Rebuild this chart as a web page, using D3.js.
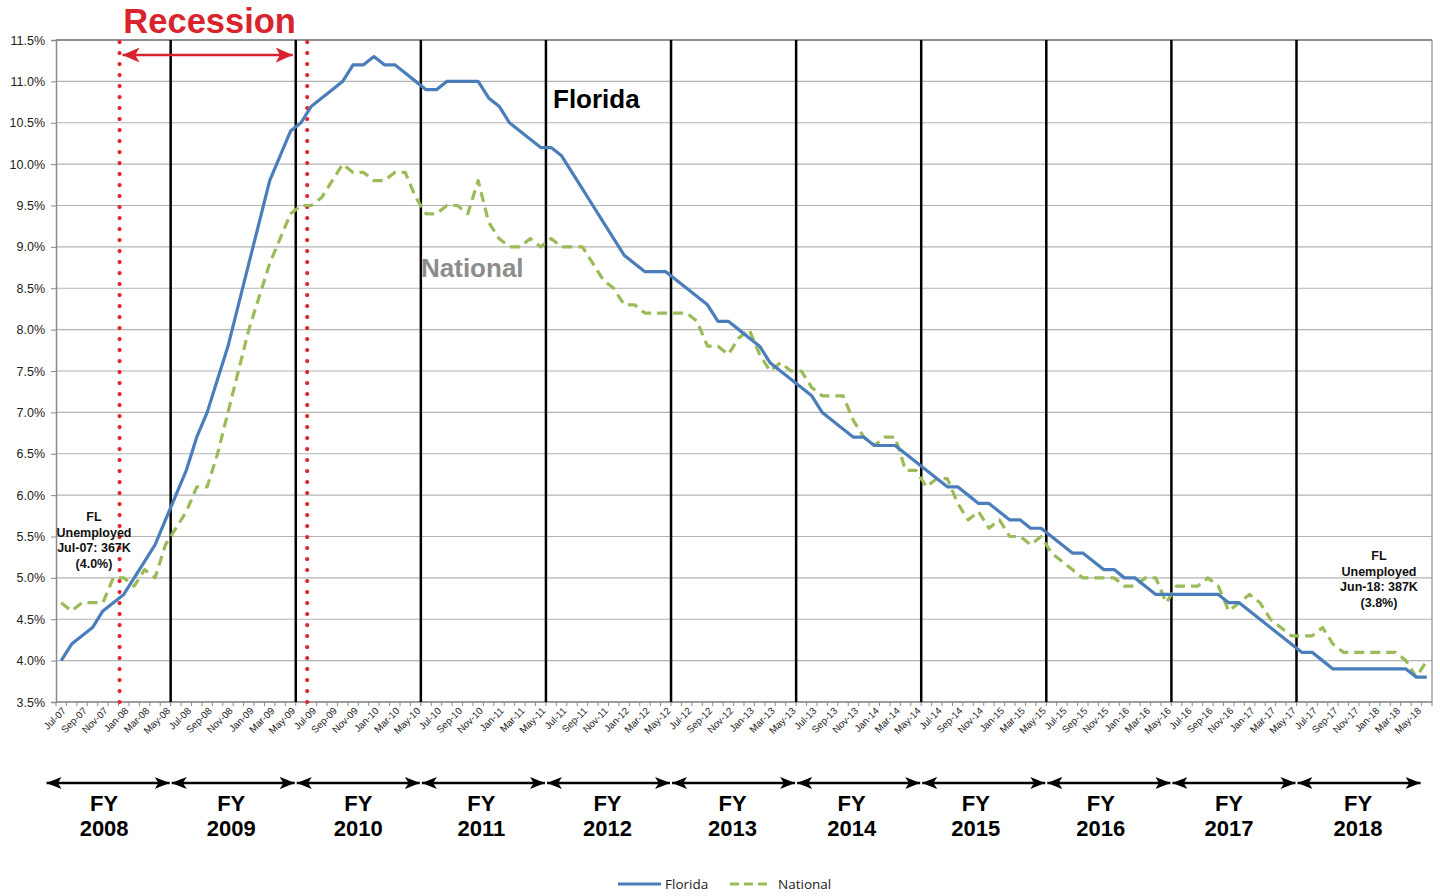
<!DOCTYPE html>
<html>
<head>
<meta charset="utf-8">
<script src="https://cdn.jsdelivr.net/npm/d3@7"></script>
<style>
  html, body { margin: 0; padding: 0; background: #fff; }
  svg { display: block; font-family: "Liberation Sans", Arial, sans-serif; }
</style>
</head>
<body>
<svg id="chart" width="1440" height="896"></svg>
<script>
// Monthly labels, Jul-07 through Jun-18
const monthNames = ["Jan","Feb","Mar","Apr","May","Jun","Jul","Aug","Sep","Oct","Nov","Dec"];
const months = [];
for (let i = 0; i < 132; i++) {
  const m = (6 + i) % 12;
  const yr = 7 + Math.floor((6 + i) / 12);
  months.push(monthNames[m] + "-" + String(yr).padStart(2, "0"));
}

// Unemployment rate (%), Florida
const florida = [
  4.0, 4.2, 4.3, 4.4, 4.6, 4.7, 4.8, 5.0, 5.2, 5.4, 5.7, 6.0,
  6.3, 6.7, 7.0, 7.4, 7.8, 8.3, 8.8, 9.3, 9.8, 10.1, 10.4, 10.5,
  10.7, 10.8, 10.9, 11.0, 11.2, 11.2, 11.3, 11.2, 11.2, 11.1, 11.0, 10.9,
  10.9, 11.0, 11.0, 11.0, 11.0, 10.8, 10.7, 10.5, 10.4, 10.3, 10.2, 10.2,
  10.1, 9.9, 9.7, 9.5, 9.3, 9.1, 8.9, 8.8, 8.7, 8.7, 8.7, 8.6,
  8.5, 8.4, 8.3, 8.1, 8.1, 8.0, 7.9, 7.8, 7.6, 7.5, 7.4, 7.3,
  7.2, 7.0, 6.9, 6.8, 6.7, 6.7, 6.6, 6.6, 6.6, 6.5, 6.4, 6.3,
  6.2, 6.1, 6.1, 6.0, 5.9, 5.9, 5.8, 5.7, 5.7, 5.6, 5.6, 5.5,
  5.4, 5.3, 5.3, 5.2, 5.1, 5.1, 5.0, 5.0, 4.9, 4.8, 4.8, 4.8,
  4.8, 4.8, 4.8, 4.8, 4.7, 4.7, 4.6, 4.5, 4.4, 4.3, 4.2, 4.1,
  4.1, 4.0, 3.9, 3.9, 3.9, 3.9, 3.9, 3.9, 3.9, 3.9, 3.8, 3.8
];

// Unemployment rate (%), National
const national = [
  4.7, 4.6, 4.7, 4.7, 4.7, 5.0, 5.0, 4.9, 5.1, 5.0, 5.4, 5.6,
  5.8, 6.1, 6.1, 6.5, 7.0, 7.5, 8.0, 8.4, 8.8, 9.1, 9.4, 9.5,
  9.5, 9.6, 9.8, 10.0, 9.9, 9.9, 9.8, 9.8, 9.9, 9.9, 9.6, 9.4,
  9.4, 9.5, 9.5, 9.4, 9.8, 9.3, 9.1, 9.0, 9.0, 9.1, 9.0, 9.1,
  9.0, 9.0, 9.0, 8.8, 8.6, 8.5, 8.3, 8.3, 8.2, 8.2, 8.2, 8.2,
  8.2, 8.1, 7.8, 7.8, 7.7, 7.9, 8.0, 7.7, 7.5, 7.6, 7.5, 7.5,
  7.3, 7.2, 7.2, 7.2, 6.9, 6.7, 6.6, 6.7, 6.7, 6.3, 6.3, 6.1,
  6.2, 6.2, 5.9, 5.7, 5.8, 5.6, 5.7, 5.5, 5.5, 5.4, 5.5, 5.3,
  5.2, 5.1, 5.0, 5.0, 5.0, 5.0, 4.9, 4.9, 5.0, 5.0, 4.7, 4.9,
  4.9, 4.9, 5.0, 4.9, 4.6, 4.7, 4.8, 4.7, 4.5, 4.4, 4.3, 4.3,
  4.3, 4.4, 4.2, 4.1, 4.1, 4.1, 4.1, 4.1, 4.1, 4.0, 3.8, 4.0
];

const yTicks = [3.5, 4.0, 4.5, 5.0, 5.5, 6.0, 6.5, 7.0, 7.5, 8.0, 8.5, 9.0, 9.5, 10.0, 10.5, 11.0, 11.5];
const fiscalYears = ["2008","2009","2010","2011","2012","2013","2014","2015","2016","2017","2018"];
const recessionStart = "Jan-08";
const recessionEnd = "Jul-09";
const startNote = ["FL", "Unemployed", "Jul-07: 367K", "(4.0%)"];
const endNote = ["FL", "Unemployed", "Jun-18: 387K", "(3.8%)"];

const svg = d3.select("#chart");
const plotL = 56, plotR = 1432, plotT = 40, plotB = 702;

const x = d3.scaleBand().domain(months).range([plotL, plotR]).paddingInner(0).paddingOuter(0);
const bw = x.bandwidth();
const cx = m => x(m) + bw / 2;
const y = d3.scaleLinear().domain([3.5, 11.5]).range([plotB, plotT]);

// gridlines
svg.append("g").selectAll("line").data(yTicks).join("line")
  .attr("x1", plotL).attr("x2", plotR)
  .attr("y1", d => y(d)).attr("y2", d => y(d))
  .attr("stroke", d => d === 11.5 ? "#222" : "#b4b4b4")
  .attr("stroke-width", 1.2);

// right border
svg.append("line").attr("x1", plotR).attr("x2", plotR).attr("y1", plotT).attr("y2", plotB)
  .attr("stroke", "#8a8a8a").attr("stroke-width", 1.2);

// y axis
const yAxis = d3.axisLeft(y).tickValues(yTicks).tickSize(5).tickFormat(d => d.toFixed(1) + "%");
const gy = svg.append("g").attr("transform", `translate(${plotL},0)`).call(yAxis);
gy.select(".domain").attr("stroke", "#8a8a8a").attr("stroke-width", 1.5);
gy.selectAll(".tick line").attr("stroke", "#8a8a8a");
gy.selectAll(".tick text").attr("font-size", 12.5).attr("fill", "#222").attr("x", -11)
  .attr("font-family", "Liberation Sans, Arial, sans-serif");

// x axis: monthly ticks at band edges, labels every second month
const gx = svg.append("g").attr("transform", `translate(0,${plotB})`);
gx.append("line").attr("x1", plotL).attr("x2", plotR).attr("y1", 0).attr("y2", 0)
  .attr("stroke", "#8a8a8a").attr("stroke-width", 1.5);
gx.selectAll("line.mt").data(months.concat(["end"])).join("line").attr("class", "mt")
  .attr("x1", (d, i) => plotL + i * x.step()).attr("x2", (d, i) => plotL + i * x.step())
  .attr("y1", 0).attr("y2", 4).attr("stroke", "#8a8a8a");
gx.selectAll("text").data(months.filter((d, i) => i % 2 === 0)).join("text")
  .attr("transform", d => `translate(${cx(d) + 3},${7}) rotate(-45)`)
  .attr("text-anchor", "end").attr("dy", "0.35em")
  .attr("font-size", 9.8).attr("fill", "#222").text(d => d);

// fiscal-year boundary lines (start of each June band)
const fyEdges = d3.range(0, 12).map(k => plotL + (12 * k - 1) * x.step());
svg.append("g").selectAll("line").data(fyEdges.slice(1, 11)).join("line")
  .attr("x1", d => d).attr("x2", d => d).attr("y1", plotT).attr("y2", plotB)
  .attr("stroke", "#000").attr("stroke-width", 2.5);

// recession markers
const recX = [x(recessionStart) + 1, x(recessionEnd) + 1];
svg.append("g").selectAll("line").data(recX).join("line")
  .attr("x1", d => d).attr("x2", d => d).attr("y1", plotT + 2).attr("y2", plotB)
  .attr("stroke", "#e0232d").attr("stroke-width", 4.2)
  .attr("stroke-linecap", "round").attr("stroke-dasharray", "0.1 10.9");

// series lines
const line = d3.line().x((d, i) => cx(months[i])).y(d => y(d));
svg.append("path").datum(national).attr("d", line)
  .attr("fill", "none").attr("stroke", "#9bbb59").attr("stroke-width", 3.2)
  .attr("stroke-dasharray", "10 6").attr("stroke-linejoin", "round");
svg.append("path").datum(florida).attr("d", line)
  .attr("fill", "none").attr("stroke", "#4a7ebb").attr("stroke-width", 3.2)
  .attr("stroke-linejoin", "round");

// arrow markers
const defs = svg.append("defs");
function marker(id, color, w, h) {
  defs.append("marker").attr("id", id).attr("viewBox", `0 0 ${w} ${h}`)
    .attr("refX", w).attr("refY", h / 2).attr("markerWidth", w).attr("markerHeight", h)
    .attr("markerUnits", "userSpaceOnUse").attr("orient", "auto-start-reverse")
    .append("path").attr("d", `M0,0L${w},${h / 2}L0,${h}L${w * 0.25},${h / 2}Z`).attr("fill", color);
}
marker("arrRed", "#d9232d", 17, 15);
marker("arrBlack", "#000", 15, 12);

// Recession label and span arrow
svg.append("line").attr("x1", recX[0] + 3).attr("x2", fyEdges[2] - 3).attr("y1", 55).attr("y2", 55)
  .attr("stroke", "#d9232d").attr("stroke-width", 2.5)
  .attr("marker-start", "url(#arrRed)").attr("marker-end", "url(#arrRed)");
svg.append("text").attr("x", (recX[0] + fyEdges[2]) / 2 + 2).attr("y", 33)
  .attr("text-anchor", "middle").attr("font-size", 34.5).attr("font-weight", "bold")
  .attr("fill", "#d9232d").text("Recession");

// series labels
svg.append("text").attr("x", 553).attr("y", 108).attr("font-size", 26).attr("font-weight", "bold")
  .attr("fill", "#000").text("Florida");
svg.append("text").attr("x", 421).attr("y", 277).attr("font-size", 26).attr("font-weight", "bold")
  .attr("fill", "#8c8c8c").text("National");

// notes
function note(lines, xc, y0) {
  svg.append("g").selectAll("text").data(lines).join("text")
    .attr("x", xc).attr("y", (d, i) => y0 + i * 15.5)
    .attr("text-anchor", "middle").attr("font-size", 12.5).attr("font-weight", "bold")
    .attr("fill", "#111").text(d => d);
}
note(startNote, 94, 521);
note(endNote, 1379, 560);

// fiscal year spans
const fyNudge = [-4, -2, 0, -2, -1, -1, -7, -8, -8, -5, -1];
const gf = svg.append("g");
fiscalYears.forEach((fy, k) => {
  const x0 = fyEdges[k], x1 = fyEdges[k + 1];
  gf.append("line").attr("x1", x0 + 1).attr("x2", x1 - 1).attr("y1", 783).attr("y2", 783)
    .attr("stroke", "#000").attr("stroke-width", 2.5)
    .attr("marker-start", "url(#arrBlack)").attr("marker-end", "url(#arrBlack)");
  const mid = (x0 + x1) / 2 + fyNudge[k];
  gf.append("text").attr("x", mid).attr("y", 811).attr("text-anchor", "middle")
    .attr("font-size", 22).attr("font-weight", "bold").text("FY");
  gf.append("text").attr("x", mid).attr("y", 836).attr("text-anchor", "middle")
    .attr("font-size", 22).attr("font-weight", "bold").text(fy);
});

// legend
const lg = svg.append("g").attr("font-family", "'Open Sans', 'Noto Sans', sans-serif");
lg.append("line").attr("x1", 618).attr("x2", 661).attr("y1", 884).attr("y2", 884)
  .attr("stroke", "#4a7ebb").attr("stroke-width", 3.2);
lg.append("text").attr("x", 665).attr("y", 889).attr("font-size", 13.5).attr("fill", "#222").text("Florida");
lg.append("line").attr("x1", 730).attr("x2", 772).attr("y1", 884).attr("y2", 884)
  .attr("stroke", "#9bbb59").attr("stroke-width", 3.2).attr("stroke-dasharray", "9 5");
lg.append("text").attr("x", 778).attr("y", 889).attr("font-size", 13.5).attr("fill", "#222").text("National");
</script>
</body>
</html>
